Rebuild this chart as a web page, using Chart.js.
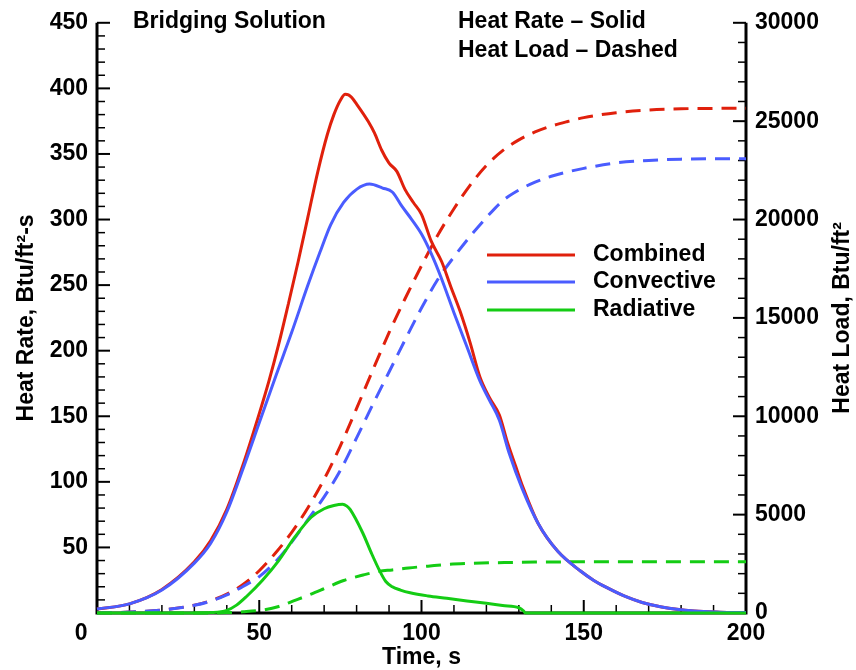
<!DOCTYPE html>
<html>
<head>
<meta charset="utf-8">
<title>Bridging Solution</title>
<script src="https://cdn.jsdelivr.net/npm/chart.js@4/dist/chart.umd.min.js"></script>
<style>
  html, body { margin: 0; padding: 0; background: #fff; }
  #wrap { width: 856px; height: 670px; }
</style>
</head>
<body>
<div id="wrap"><canvas id="heatChart" width="856" height="670"></canvas></div>
<script>
// heat rate, Btu/ft2-s
const combinedTime = [0, 10, 20, 30, 35, 40, 45, 50, 53, 56, 59, 62, 65, 68, 71, 73, 75, 76.5, 77.5, 78.5, 80, 83.6, 85.5, 87.7, 90, 92.4, 94.9, 97.5, 100, 103, 106.2, 109, 111.9, 115, 118, 121, 124, 126.5, 129, 131.4, 136, 142, 149, 153, 157, 163, 168, 174, 184, 192, 200];
const combinedRate = [3, 7, 18, 39, 55, 79, 113, 152, 177, 205, 236, 268, 302, 336, 365, 380, 391, 395.5, 395, 393, 388, 374.7, 366, 353, 343, 336.7, 323, 313, 304, 283.5, 268, 249, 230, 206, 180, 164, 151, 130, 112, 95, 68, 47, 32, 25, 19.5, 12.4, 8, 4.6, 1.5, 0.6, 0.3];

const convectiveTime = [0, 10, 20, 30, 35, 40, 45, 50, 55, 60, 65, 68.7, 72, 76, 80, 84, 88, 91, 94, 97, 100, 103, 106, 110, 114, 118, 121, 124, 127, 131, 136, 142, 149, 153, 157, 163, 168, 174, 184, 192, 200];
const convectiveRate = [3, 7, 17.5, 38, 53, 77, 110, 145, 180, 214, 250, 275, 296, 313, 323, 327, 324, 321, 310, 300, 289, 274, 256, 229, 203, 177, 162, 147, 122, 95, 68, 47, 32, 25, 19.5, 12.4, 8, 4.6, 1.5, 0.6, 0.3];

const radiativeTime = [0, 30, 35, 40, 43, 46, 51, 56, 61, 66, 70, 73, 75.7, 77, 78, 81.9, 84.5, 87, 89, 91, 93.5, 96.5, 102, 107.8, 114, 120, 125, 130, 131.5, 132, 150, 200];
const radiativeRate = [0, 0, 0.3, 2, 6, 12.4, 25, 40, 58, 73, 79.5, 82, 83, 81.5, 79, 61, 46, 32.7, 24, 20, 17.5, 15.4, 13, 11.2, 9.2, 7.4, 5.7, 4, 1.5, 0, 0, 0];

// heat load, Btu/ft2
const loadTime = [0, 10, 20, 30, 35, 40, 45, 50, 55, 60, 65, 70, 75, 80, 85, 90, 95, 100, 105, 110, 115, 120, 125, 130, 135, 140, 145, 150, 160, 170, 180, 190, 200];
const combinedLoad = [0, 45, 150, 400, 620, 960, 1450, 2150, 3050, 4100, 5350, 6800, 8500, 10400, 12350, 14250, 16000, 17650, 19200, 20550, 21750, 22750, 23500, 24050, 24450, 24750, 24980, 25180, 25430, 25570, 25630, 25650, 25660];
const convectiveLoad = [0, 45, 150, 390, 600, 920, 1350, 1850, 2600, 3600, 4750, 5900, 7250, 8900, 10600, 12250, 13900, 15500, 16950, 18100, 19150, 20100, 20950, 21500, 21900, 22200, 22420, 22600, 22880, 23000, 23070, 23090, 23093];

const radiativeLoadTime = [0, 35, 40, 45, 51, 56, 61, 66, 71, 76, 82, 87, 91, 96, 102, 108, 115, 122, 128, 135, 150, 200];
const radiativeLoad = [0, 0, 20, 60, 150, 330, 640, 960, 1310, 1650, 1930, 2120, 2190, 2290, 2380, 2468, 2520, 2555, 2569, 2590, 2600, 2600];

const xTicks = [0, 50, 100, 150, 200];
const seriesNames = ["Combined", "Convective", "Radiative"];
const seriesColors = ["#e0200c", "#4a5cff", "#14cc14"];
// lower order is painted on top
const solidOrder = [2, 1, 0];

const FONT = "'Liberation Sans', Arial, Helvetica, sans-serif";

function pts(xs, ys) {
	return xs.map((x, i) => ({ x: x, y: ys[i] }));
}

function line(label, xs, ys, color, axis, dashed, order) {
	return {
		label: label,
		data: pts(xs, ys),
		yAxisID: axis,
		order: order,
		borderColor: color,
		backgroundColor: color,
		borderWidth: 3,
		borderDash: dashed ? [15, 9] : [],
		pointRadius: 0,
		cubicInterpolationMode: "monotone",
		fill: false,
		clip: 3,
	};
}

// axes lines and inward tick marks
const frameAxes = {
	id: "frameAxes",
	beforeDatasetsDraw(chart) {
		const { ctx, chartArea: a, scales } = chart;
		ctx.save();
		ctx.strokeStyle = "#000";
		ctx.lineCap = "butt";

		const tick = (x1, y1, x2, y2, w) => {
			ctx.lineWidth = w;
			ctx.beginPath();
			ctx.moveTo(x1, y1);
			ctx.lineTo(x2, y2);
			ctx.stroke();
		};

		for (let v = 0; v <= 200; v += 10) {
			const x = scales.x.getPixelForValue(v);
			const major = v % 50 === 0;
			tick(x, a.bottom, x, a.bottom - (major ? 13 : 8), major ? 2 : 1.5);
		}
		for (let v = 0; v <= 450; v += 10) {
			const y = scales.y.getPixelForValue(v);
			const major = v % 50 === 0;
			tick(a.left, y, a.left + (major ? 13 : 8), y, major ? 2 : 1.5);
		}
		for (let v = 0; v <= 30000; v += 1000) {
			const y = scales.y2.getPixelForValue(v);
			const major = v % 5000 === 0;
			tick(a.right, y, a.right - (major ? 13 : 8), y, major ? 2 : 1.5);
		}

		ctx.lineWidth = 3;
		ctx.beginPath();
		ctx.moveTo(a.left, a.top);
		ctx.lineTo(a.left, a.bottom);
		ctx.lineTo(a.right, a.bottom);
		ctx.lineTo(a.right, a.top);
		ctx.stroke();
		ctx.restore();
	},
};

// header texts, legend for the solid lines, right axis title
const notes = {
	id: "notes",
	afterDraw(chart) {
		const { ctx, chartArea: a } = chart;
		ctx.save();
		ctx.fillStyle = "#000";
		ctx.font = "bold 23px " + FONT;
		ctx.textAlign = "left";
		ctx.textBaseline = "alphabetic";
		ctx.fillText("Bridging Solution", 133, 28);
		ctx.fillText("Heat Rate \u2013 Solid", 458, 28);
		ctx.fillText("Heat Load \u2013 Dashed", 458, 57);

		const rows = [255, 282, 310];
		ctx.textBaseline = "middle";
		rows.forEach((y, i) => {
			ctx.strokeStyle = seriesColors[i];
			ctx.lineWidth = 3;
			ctx.beginPath();
			ctx.moveTo(487, y);
			ctx.lineTo(575, y);
			ctx.stroke();
			ctx.fillText(seriesNames[i], 593, y);
		});

		ctx.translate(843, (a.top + a.bottom) / 2);
		ctx.rotate(-Math.PI / 2);
		ctx.textAlign = "center";
		ctx.fillText("Heat Load, Btu/ft\u00b2", 0, 0);
		ctx.restore();
	},
};

const tickFont = { family: FONT, size: 23, weight: "bold" };

const heatConfig = {
	type: "line",
	data: {
		datasets: [
			line(seriesNames[0], combinedTime, combinedRate, seriesColors[0], "y", false, solidOrder[0]),
			line(seriesNames[1], convectiveTime, convectiveRate, seriesColors[1], "y", false, solidOrder[1]),
			line(seriesNames[2], radiativeTime, radiativeRate, seriesColors[2], "y", false, solidOrder[2]),
			line(seriesNames[0] + " load", loadTime, combinedLoad, seriesColors[0], "y2", true, 5),
			line(seriesNames[1] + " load", loadTime, convectiveLoad, seriesColors[1], "y2", true, 4),
			line(seriesNames[2] + " load", radiativeLoadTime, radiativeLoad, seriesColors[2], "y2", true, 3),
		],
	},
	options: {
		responsive: false,
		animation: false,
		layout: { padding: { top: 21, left: 0, right: 0, bottom: 0 } },
		plugins: {
			legend: { display: false },
			tooltip: { enabled: false },
		},
		scales: {
			x: {
				type: "linear",
				min: 0,
				max: 200,
				grid: { display: false, drawTicks: false },
				border: { display: false },
				afterBuildTicks: (s) => { s.ticks = xTicks.map((v) => ({ value: v })); },
				afterFit: (s) => { s.height = 57; },
				ticks: {
					color: "#000",
					font: tickFont,
					padding: 7,
					maxRotation: 0,
					// the first label sits a little left of the axis corner
					callback: (v) => (v === 0 ? "0     " : String(v)),
				},
				title: {
					display: true,
					text: "Time, s",
					color: "#000",
					font: { family: FONT, size: 23, weight: "bold", lineHeight: 1 },
					padding: { top: 0, bottom: 1 },
				},
			},
			y: {
				type: "linear",
				position: "left",
				min: 0,
				max: 450,
				grid: { display: false, drawTicks: false },
				border: { display: false },
				afterFit: (s) => { s.width = 97; },
				ticks: {
					stepSize: 50,
					color: "#000",
					font: tickFont,
					padding: 9,
					callback: (v) => (v === 0 ? "" : String(v)),
				},
				title: {
					display: true,
					text: "Heat Rate, Btu/ft\u00b2-s",
					color: "#000",
					font: { family: FONT, size: 23, weight: "bold", lineHeight: 1 },
					padding: { top: 15, bottom: 0 },
				},
			},
			y2: {
				type: "linear",
				position: "right",
				min: 0,
				max: 30000,
				grid: { display: false, drawTicks: false },
				border: { display: false },
				afterFit: (s) => { s.width = 110; },
				ticks: {
					stepSize: 5000,
					color: "#000",
					font: tickFont,
					padding: 9,
					callback: (v) => String(v),
				},
			},
		},
	},
	plugins: [frameAxes, notes],
};

const HeatChart = new Chart(document.getElementById("heatChart"), heatConfig);
</script>
</body>
</html>
